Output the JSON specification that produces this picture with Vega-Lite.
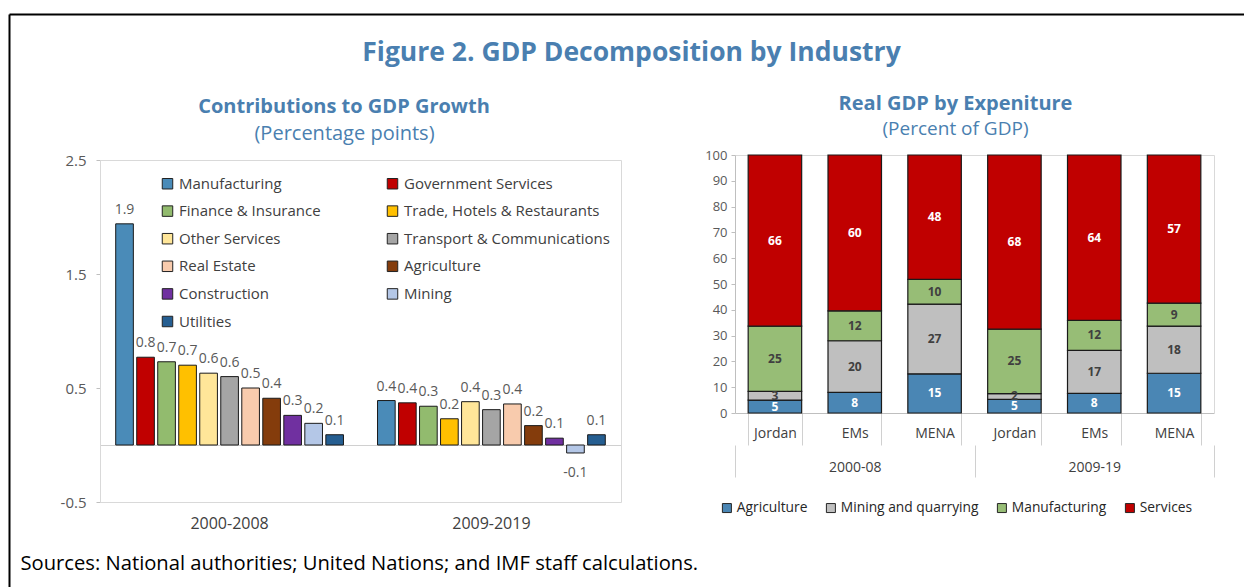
{
  "$schema": "https://vega.github.io/schema/vega-lite/v6.json",
  "width": 1235,
  "height": 573,
  "padding": {"left": 9, "top": 14, "right": 0, "bottom": 0},
  "autosize": {"type": "none"},
  "background": "white",
  "config": {"font": "Open Sans", "view": {"stroke": null}},
  "datasets": {
    "contrib": [
      {"period": "2000-2008", "sector": "Manufacturing", "value": 1.94},
      {"period": "2000-2008", "sector": "Government Services", "value": 0.77},
      {"period": "2000-2008", "sector": "Finance & Insurance", "value": 0.73},
      {"period": "2000-2008", "sector": "Trade, Hotels & Restaurants", "value": 0.70},
      {"period": "2000-2008", "sector": "Other Services", "value": 0.63},
      {"period": "2000-2008", "sector": "Transport & Communications", "value": 0.60},
      {"period": "2000-2008", "sector": "Real Estate", "value": 0.50},
      {"period": "2000-2008", "sector": "Agriculture", "value": 0.41},
      {"period": "2000-2008", "sector": "Construction", "value": 0.26},
      {"period": "2000-2008", "sector": "Mining", "value": 0.19},
      {"period": "2000-2008", "sector": "Utilities", "value": 0.09},
      {"period": "2009-2019", "sector": "Manufacturing", "value": 0.39},
      {"period": "2009-2019", "sector": "Government Services", "value": 0.37},
      {"period": "2009-2019", "sector": "Finance & Insurance", "value": 0.34},
      {"period": "2009-2019", "sector": "Trade, Hotels & Restaurants", "value": 0.23},
      {"period": "2009-2019", "sector": "Other Services", "value": 0.38},
      {"period": "2009-2019", "sector": "Transport & Communications", "value": 0.31},
      {"period": "2009-2019", "sector": "Real Estate", "value": 0.36},
      {"period": "2009-2019", "sector": "Agriculture", "value": 0.17},
      {"period": "2009-2019", "sector": "Construction", "value": 0.06},
      {"period": "2009-2019", "sector": "Mining", "value": -0.07},
      {"period": "2009-2019", "sector": "Utilities", "value": 0.09}
    ],
    "gdp": [
      {"period": "2000-08", "key": "2000-08|Jordan", "sector": "Agriculture", "k": 1, "value": 5.0},
      {"period": "2000-08", "key": "2000-08|Jordan", "sector": "Mining and quarrying", "k": 2, "value": 3.4},
      {"period": "2000-08", "key": "2000-08|Jordan", "sector": "Manufacturing", "k": 3, "value": 25.3},
      {"period": "2000-08", "key": "2000-08|Jordan", "sector": "Services", "k": 4, "value": 66.3},
      {"period": "2000-08", "key": "2000-08|EMs", "sector": "Agriculture", "k": 1, "value": 8.0},
      {"period": "2000-08", "key": "2000-08|EMs", "sector": "Mining and quarrying", "k": 2, "value": 20.0},
      {"period": "2000-08", "key": "2000-08|EMs", "sector": "Manufacturing", "k": 3, "value": 11.6},
      {"period": "2000-08", "key": "2000-08|EMs", "sector": "Services", "k": 4, "value": 60.4},
      {"period": "2000-08", "key": "2000-08|MENA", "sector": "Agriculture", "k": 1, "value": 15.2},
      {"period": "2000-08", "key": "2000-08|MENA", "sector": "Mining and quarrying", "k": 2, "value": 27.0},
      {"period": "2000-08", "key": "2000-08|MENA", "sector": "Manufacturing", "k": 3, "value": 9.6},
      {"period": "2000-08", "key": "2000-08|MENA", "sector": "Services", "k": 4, "value": 48.2},
      {"period": "2009-19", "key": "2009-19|Jordan", "sector": "Agriculture", "k": 1, "value": 5.3},
      {"period": "2009-19", "key": "2009-19|Jordan", "sector": "Mining and quarrying", "k": 2, "value": 2.2},
      {"period": "2009-19", "key": "2009-19|Jordan", "sector": "Manufacturing", "k": 3, "value": 25.0},
      {"period": "2009-19", "key": "2009-19|Jordan", "sector": "Services", "k": 4, "value": 67.5},
      {"period": "2009-19", "key": "2009-19|EMs", "sector": "Agriculture", "k": 1, "value": 7.6},
      {"period": "2009-19", "key": "2009-19|EMs", "sector": "Mining and quarrying", "k": 2, "value": 16.7},
      {"period": "2009-19", "key": "2009-19|EMs", "sector": "Manufacturing", "k": 3, "value": 11.6},
      {"period": "2009-19", "key": "2009-19|EMs", "sector": "Services", "k": 4, "value": 64.1},
      {"period": "2009-19", "key": "2009-19|MENA", "sector": "Agriculture", "k": 1, "value": 15.4},
      {"period": "2009-19", "key": "2009-19|MENA", "sector": "Mining and quarrying", "k": 2, "value": 18.3},
      {"period": "2009-19", "key": "2009-19|MENA", "sector": "Manufacturing", "k": 3, "value": 8.9},
      {"period": "2009-19", "key": "2009-19|MENA", "sector": "Services", "k": 4, "value": 57.4}
    ]
  },
  "layer": [
    {
      "data": {"name": "contrib"},
      "mark": {"type": "point", "opacity": 0},
      "encoding": {
        "x": {"field": "value", "type": "quantitative", "axis": {"orient": "top", "labels": false, "ticks": false, "grid": false, "title": null, "domainColor": "#000000", "domainWidth": 2}},
        "y": {"field": "value", "type": "quantitative", "axis": {"orient": "left", "labels": false, "ticks": false, "grid": false, "title": null, "domainColor": "#000000", "domainWidth": 2}}
      }
    },
    {
      "data": {"name": "contrib"},
      "layer": [
        {
          "mark": {"type": "point", "opacity": 0},
          "encoding": {
            "x": {"field": "period", "type": "nominal", "axis": {"orient": "bottom", "offset": -142, "labels": false, "ticks": false, "domainColor": "#d0d0d0", "title": null}}
          }
        },
        {
          "mark": {"type": "bar", "stroke": "#1a1a1a", "strokeWidth": 1},
          "encoding": {
            "x": {
              "field": "period", "type": "nominal",
              "scale": {"domain": ["2000-2008", "2009-2019"], "range": [91, 612], "paddingInner": 0.13, "paddingOuter": 0.06},
              "axis": {"orient": "bottom", "offset": -85, "domainColor": "#d9d9d9", "ticks": false, "labelAngle": 0, "labelFontSize": 16, "labelColor": "#404040", "labelPadding": 13,
                "title": "Sources: National authorities; United Nations; and IMF staff calculations.", "titleX": 11, "titleY": 61, "titleAlign": "left", "titleBaseline": "middle", "titleFontSize": 20.2, "titleFontWeight": "normal", "titleColor": "#000000", "titleAngle": 0, "titleLimit": 1200}
            },
            "xOffset": {
              "field": "sector", "type": "nominal",
              "scale": {"domain": ["Manufacturing", "Government Services", "Finance & Insurance", "Trade, Hotels & Restaurants", "Other Services", "Transport & Communications", "Real Estate", "Agriculture", "Construction", "Mining", "Utilities"], "paddingInner": 0.16, "paddingOuter": 0}
            },
            "y": {
              "field": "value", "type": "quantitative",
              "scale": {"domain": [-0.5, 2.5], "range": [488, 146], "nice": false, "zero": false},
              "axis": {"orient": "left", "offset": -91, "values": [-0.5, 0.5, 1.5, 2.5], "format": ".1f", "labelExpr": "replace(datum.label, '\u2212', '-')", "grid": false, "domainColor": "#d9d9d9", "tickColor": "#bfbfbf", "tickSize": 4, "labelFontSize": 15, "labelColor": "#595959", "labelPadding": 10,
                "title": "Contributions to GDP Growth", "titleX": 243.5, "titleY": 92, "titleAngle": 0, "titleAlign": "center", "titleBaseline": "middle", "titleFontSize": 20, "titleFontWeight": "bold", "titleColor": "#4a7fb0", "titleLimit": 1000}
            },
            "color": {
              "field": "sector", "type": "nominal",
              "scale": {"domain": ["Manufacturing", "Government Services", "Finance & Insurance", "Trade, Hotels & Restaurants", "Other Services", "Transport & Communications", "Real Estate", "Agriculture", "Construction", "Mining", "Utilities"],
                        "range": ["#4a8bb8", "#c00000", "#92bb6e", "#ffc000", "#ffe699", "#a5a5a5", "#f8cbad", "#843c0c", "#7030a0", "#b4c7e7", "#255e91"]},
              "legend": {"orient": "none", "legendX": 151, "legendY": 162, "direction": "horizontal", "columns": 2, "title": null, "symbolType": "square", "symbolSize": 110, "symbolStrokeColor": "#222222", "symbolStrokeWidth": 1, "labelFontSize": 15, "labelColor": "#404040", "labelOffset": 4, "columnPadding": 64, "rowPadding": 11.6, "labelLimit": 300, "padding": 0}
            }
          }
        },
        {
          "transform": [{"filter": "datum.value >= 0"}],
          "mark": {"type": "text", "baseline": "middle", "dy": -14, "fontSize": 14, "color": "#595959"},
          "encoding": {
            "x": {"field": "period", "type": "nominal", "axis": null},
            "xOffset": {"field": "sector", "type": "nominal"},
            "y": {"field": "value", "type": "quantitative", "axis": null},
            "text": {"field": "value", "type": "quantitative", "format": ".1f"}
          }
        },
        {
          "transform": [{"filter": "datum.value < 0"}],
          "mark": {"type": "text", "baseline": "middle", "dy": 20, "fontSize": 14, "color": "#595959", "text": {"expr": "replace(format(datum.value, '.1f'), '\u2212', '-')"}},
          "encoding": {
            "x": {"field": "period", "type": "nominal", "axis": null},
            "xOffset": {"field": "sector", "type": "nominal"},
            "y": {"field": "value", "type": "quantitative", "axis": null}
          }
        },
        {
          "mark": {"type": "point", "opacity": 0},
          "encoding": {
            "x": {"field": "period", "type": "nominal", "axis": {"orient": "top", "offset": -146, "labels": false, "ticks": false, "domainColor": "#d9d9d9",
              "title": "(Percentage points)", "titleX": 335, "titleY": -27, "titleAngle": 0, "titleAlign": "center", "titleBaseline": "middle", "titleFontSize": 20, "titleFontWeight": "normal", "titleColor": "#4a7fb0", "titleLimit": 1000}},
            "y": {"field": "value", "type": "quantitative", "axis": {"orient": "right", "offset": -623, "labels": false, "ticks": false, "grid": false, "domainColor": "#d9d9d9", "title": null}}
          }
        }
      ],
      "resolve": {"axis": {"x": "independent", "y": "independent"}}
    },
    {
      "data": {"name": "gdp"},
      "layer": [
        {
          "layer": [
            {
              "mark": {"type": "bar", "stroke": "#1a1a1a", "strokeWidth": 1.2},
              "encoding": {
                "x": {
                  "field": "key", "type": "nominal",
                  "scale": {"domain": ["2000-08|Jordan", "2000-08|EMs", "2000-08|MENA", "2009-19|Jordan", "2009-19|EMs", "2009-19|MENA"], "range": [726, 1205], "paddingInner": 0.33, "paddingOuter": 0.165},
                  "axis": {"orient": "bottom", "offset": -174, "labelExpr": "split(datum.label, '|')[1]", "labelAngle": 0, "tickBand": "extent", "tickSize": 32, "tickColor": "#d0d0d0", "domainColor": "#bfbfbf", "labelFontSize": 14, "labelColor": "#404040", "labelPadding": -19,
                    "title": "Figure 2. GDP Decomposition by Industry", "titleX": 622, "titleY": -361, "titleAngle": 0, "titleAlign": "center", "titleBaseline": "middle", "titleFontSize": 26.5, "titleFontWeight": "bold", "titleColor": "#4a7fb0", "titleLimit": 1200}
                },
                "y": {
                  "field": "value", "type": "quantitative", "stack": "zero",
                  "scale": {"domain": [0, 100], "range": [399, 141], "nice": false},
                  "axis": {"orient": "left", "offset": -726, "values": [0, 10, 20, 30, 40, 50, 60, 70, 80, 90, 100], "grid": false, "domainColor": "#bfbfbf", "tickColor": "#bfbfbf", "tickSize": 4, "labelFontSize": 13, "labelColor": "#595959", "labelPadding": 4,
                    "title": "Real GDP by Expeniture", "titleX": 220, "titleY": 89, "titleAngle": 0, "titleAlign": "center", "titleBaseline": "middle", "titleFontSize": 20, "titleFontWeight": "bold", "titleColor": "#4a7fb0", "titleLimit": 1000}
                },
                "color": {
                  "field": "sector", "type": "nominal",
                  "scale": {"domain": ["Agriculture", "Mining and quarrying", "Manufacturing", "Services"], "range": ["#4a86b4", "#bfbfbf", "#97bd76", "#c00000"]},
                  "legend": {"orient": "none", "legendX": 711, "legendY": 487, "direction": "horizontal", "columns": 4, "title": null, "symbolType": "square", "symbolSize": 81, "symbolStrokeColor": "#262626", "symbolStrokeWidth": 1, "labelFontSize": 13.8, "labelColor": "#262626", "labelOffset": 3, "columnPadding": 16, "labelLimit": 300, "padding": 0}
                },
                "order": {"field": "k", "type": "quantitative"}
              }
            },
            {
              "mark": {"type": "text", "baseline": "middle", "fontSize": 12, "fontWeight": "bold"},
              "encoding": {
                "x": {"field": "key", "type": "nominal", "axis": null},
                "y": {"field": "value", "type": "quantitative", "stack": "zero", "bandPosition": 0.5, "axis": null},
                "detail": {"field": "sector"},
                "order": {"field": "k", "type": "quantitative"},
                "text": {"field": "value", "type": "quantitative", "format": ".0f"},
                "color": {"condition": {"test": "datum.sector === 'Agriculture' || datum.sector === 'Services'", "value": "#ffffff"}, "value": "#404040"}
              }
            },
            {
              "mark": {"type": "point", "opacity": 0},
              "encoding": {
                "x": {"field": "key", "type": "nominal", "axis": {"orient": "top", "offset": -141, "labels": false, "ticks": false, "domainColor": "#d9d9d9",
                  "title": "(Percent of GDP)", "titleX": 946, "titleY": -27, "titleAngle": 0, "titleAlign": "center", "titleBaseline": "middle", "titleFontSize": 19, "titleFontWeight": "normal", "titleColor": "#4a7fb0", "titleLimit": 1000}},
                "y": {"field": "value", "type": "quantitative", "axis": {"orient": "right", "offset": -30, "labels": false, "ticks": false, "grid": false, "domainColor": "#d9d9d9", "title": null}}
              }
            }
          ],
          "resolve": {"axis": {"x": "independent", "y": "independent"}}
        },
        {
          "mark": {"type": "bar", "opacity": 0},
          "encoding": {
            "x": {
              "field": "period", "type": "nominal",
              "scale": {"domain": ["2000-08", "2009-19"], "range": [726, 1205], "paddingInner": 0, "paddingOuter": 0},
              "axis": {"orient": "bottom", "offset": -142, "tickBand": "extent", "tickSize": 32, "tickColor": "#d0d0d0", "domain": false, "labelAngle": 0, "labelFontSize": 14, "labelColor": "#404040", "labelPadding": -17, "title": null}
            }
          }
        }
      ],
      "resolve": {"scale": {"x": "independent"}, "axis": {"x": "independent", "y": "independent"}}
    }
  ],
  "resolve": {
    "scale": {"x": "independent", "y": "independent", "color": "independent", "xOffset": "independent"},
    "axis": {"x": "independent", "y": "independent"},
    "legend": {"color": "independent"}
  }
}
